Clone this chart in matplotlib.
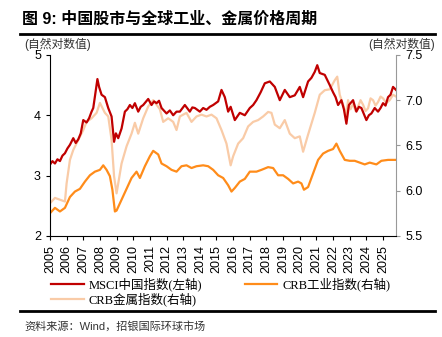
import matplotlib.pyplot as plt
from matplotlib.lines import Line2D

plt.rcParams['font.family'] = ['Liberation Sans', 'Noto Sans CJK SC', 'DejaVu Sans']

# MSCI China (left axis, natural log)
msci_t = [2005.0, 2005.15, 2005.3, 2005.45, 2005.6, 2005.75, 2005.9, 2006.05, 2006.2, 2006.4,
          2006.55, 2006.7, 2006.85, 2007.0, 2007.2, 2007.35, 2007.5, 2007.6, 2007.7, 2007.85,
          2007.95, 2008.1, 2008.3, 2008.5, 2008.7, 2008.85, 2008.96, 2009.1, 2009.3, 2009.5,
          2009.65, 2009.8, 2009.95, 2010.1, 2010.3, 2010.45, 2010.6, 2010.9, 2011.1, 2011.25,
          2011.4, 2011.55, 2011.7, 2012.0, 2012.2, 2012.4, 2012.6, 2012.8, 2013.1, 2013.4,
          2013.55, 2013.7, 2014.0, 2014.2, 2014.4, 2014.6, 2014.8, 2015.1, 2015.3, 2015.5,
          2015.7, 2015.85, 2016.1, 2016.4, 2016.7, 2017.0, 2017.2, 2017.4, 2017.65, 2017.9,
          2018.2, 2018.5, 2018.8, 2019.1, 2019.4, 2019.7, 2020.0, 2020.2, 2020.5, 2020.7,
          2020.9, 2021.05, 2021.2, 2021.5, 2021.8, 2022.0, 2022.15, 2022.3, 2022.5, 2022.65,
          2022.8, 2022.95, 2023.2, 2023.4, 2023.55, 2023.7, 2023.85, 2024.0, 2024.15, 2024.3,
          2024.5, 2024.7, 2024.85, 2025.0, 2025.15, 2025.3, 2025.45, 2025.6, 2025.78]
msci_v = [3.18, 3.24, 3.20, 3.27, 3.24, 3.33, 3.37, 3.45, 3.51, 3.62,
          3.54, 3.60, 3.70, 3.92, 3.88, 3.95, 4.06, 4.12, 4.31, 4.60,
          4.47, 4.34, 4.30, 4.12, 3.98, 3.56, 3.70, 3.62, 3.78, 4.06,
          4.10, 4.17, 4.12, 4.20, 4.06, 4.14, 4.17, 4.27, 4.17, 4.23,
          4.20, 4.24, 4.12, 4.03, 4.08, 4.00, 4.06, 4.06, 4.17, 4.06,
          4.13, 4.12, 4.06, 4.12, 4.09, 4.14, 4.17, 4.23, 4.42, 4.30,
          4.06, 4.14, 3.92, 4.04, 4.00, 4.12, 4.17, 4.25, 4.38, 4.53,
          4.56, 4.47, 4.25, 4.42, 4.30, 4.33, 4.47, 4.30, 4.56, 4.62,
          4.72, 4.83, 4.70, 4.67, 4.50, 4.38, 4.30, 4.17, 4.25, 4.10,
          3.86, 4.17, 4.25, 4.06, 4.14, 4.12, 4.02, 3.92, 4.00, 4.03,
          4.12, 4.06, 4.12, 4.20, 4.16, 4.30, 4.34, 4.47, 4.42]

# CRB industrials (right axis)
ind_t = [2005.0, 2005.3, 2005.6, 2005.9, 2006.2, 2006.5, 2006.8, 2007.1, 2007.4, 2007.7,
         2008.0, 2008.2, 2008.4, 2008.6, 2008.75, 2008.9, 2009.0, 2009.3, 2009.6, 2009.9,
         2010.2, 2010.4, 2010.7, 2011.0, 2011.2, 2011.5, 2011.7, 2012.0, 2012.3, 2012.6,
         2012.9, 2013.2, 2013.5, 2013.8, 2014.2, 2014.5, 2014.8, 2015.1, 2015.4, 2015.7,
         2015.9, 2016.1, 2016.4, 2016.7, 2017.0, 2017.4, 2017.7, 2018.1, 2018.4, 2018.7,
         2019.0, 2019.3, 2019.6, 2019.9, 2020.1, 2020.25, 2020.5, 2020.8, 2021.1, 2021.4,
         2021.7, 2022.0, 2022.2, 2022.4, 2022.7, 2023.0, 2023.3, 2023.6, 2023.9, 2024.2,
         2024.6, 2024.9, 2025.3, 2025.78]
ind_v = [5.75, 5.81, 5.77, 5.81, 5.93, 5.99, 6.02, 6.10, 6.17, 6.21,
         6.23, 6.28, 6.23, 6.16, 6.01, 5.77, 5.78, 5.90, 6.02, 6.14,
         6.21, 6.14, 6.27, 6.38, 6.44, 6.40, 6.30, 6.27, 6.23, 6.21,
         6.27, 6.28, 6.25, 6.27, 6.28, 6.27, 6.23, 6.17, 6.14, 6.06,
         5.99, 6.03, 6.10, 6.13, 6.21, 6.21, 6.23, 6.26, 6.25, 6.17,
         6.17, 6.13, 6.08, 6.10, 6.08, 6.01, 6.04, 6.19, 6.34, 6.41,
         6.44, 6.46, 6.52, 6.44, 6.34, 6.33, 6.33, 6.31, 6.29, 6.31,
         6.29, 6.33, 6.34, 6.34]

# CRB metals (right axis)
met_t = [2005.0, 2005.3, 2005.6, 2005.9, 2006.0, 2006.2, 2006.4, 2006.7, 2007.0, 2007.2,
         2007.5, 2007.8, 2008.0, 2008.3, 2008.5, 2008.7, 2008.85, 2009.0, 2009.1, 2009.3,
         2009.6, 2009.9, 2010.1, 2010.3, 2010.6, 2010.9, 2011.2, 2011.4, 2011.6, 2011.8,
         2012.1, 2012.4, 2012.6, 2012.8, 2013.2, 2013.5, 2013.8, 2014.1, 2014.4, 2014.7,
         2015.0, 2015.3, 2015.6, 2015.85, 2016.0, 2016.3, 2016.6, 2016.9, 2017.2, 2017.5,
         2017.8, 2018.1, 2018.3, 2018.5, 2018.8, 2019.1, 2019.4, 2019.7, 2020.0, 2020.2,
         2020.5, 2020.9, 2021.2, 2021.5, 2021.8, 2022.1, 2022.25, 2022.4, 2022.8, 2022.9,
         2023.05, 2023.2, 2023.35, 2023.5, 2023.65, 2023.8, 2023.95, 2024.1, 2024.25, 2024.4,
         2024.55, 2024.7, 2024.85, 2025.0, 2025.2, 2025.4, 2025.6, 2025.78]
met_v = [5.86, 5.92, 5.90, 5.88, 6.08, 6.34, 6.45, 6.56, 6.67, 6.76,
         6.80, 6.86, 6.97, 6.86, 6.82, 6.56, 6.16, 5.97, 6.08, 6.30,
         6.49, 6.63, 6.75, 6.63, 6.80, 6.93, 7.00, 6.95, 6.90, 6.76,
         6.80, 6.76, 6.67, 6.82, 6.86, 6.76, 6.82, 6.84, 6.82, 6.84,
         6.80, 6.67, 6.52, 6.28, 6.38, 6.52, 6.58, 6.71, 6.76, 6.78,
         6.82, 6.87, 6.86, 6.73, 6.69, 6.78, 6.63, 6.58, 6.60, 6.43,
         6.62, 6.86, 7.06, 7.11, 7.12, 7.22, 7.26, 7.06, 6.84, 7.00,
         6.90, 6.96, 6.88, 6.93, 7.00, 6.95, 6.88, 6.91, 7.02, 7.00,
         6.94, 6.98, 7.04, 7.02, 6.97, 7.00, 7.06, 7.04]

years = list(range(2005, 2026))

fig = plt.figure(figsize=(4.42, 3.37), dpi=100)
ax = fig.add_axes([0.113, 0.300, 0.783, 0.537])
ax2 = ax.twinx()

l3, = ax2.plot(met_t, met_v, color='#F9CBA7', lw=1.6, label='CRB金属指数(右轴)')
l2, = ax2.plot(ind_t, ind_v, color='#FF8C1A', lw=1.6, label='CRB工业指数(右轴)')
l1, = ax.plot(msci_t, msci_v, color='#C00000', lw=1.6, label='MSCI中国指数(左轴)')
ax.set_zorder(ax2.get_zorder() + 1)
ax.patch.set_visible(False)

ax.set_xlim(2005, 2025.78)
ax.set_ylim(2, 5)
ax2.set_ylim(5.5, 7.5)
ax.set_yticks([2, 3, 4, 5])
ax2.set_yticks([5.5, 6.0, 6.5, 7.0, 7.5])
ax2.set_yticklabels(['5.5', '6.0', '6.5', '7.0', '7.5'])
ax.set_xticks(years)
ax.set_xticklabels([str(y) for y in years], rotation=90)
ax.tick_params(labelsize=9, length=3, width=0.8)
ax2.tick_params(labelsize=9, length=3, width=0.8, color='#999999')

for a in (ax, ax2):
    a.spines['top'].set_visible(False)
ax2.spines['left'].set_visible(False)
ax2.spines['bottom'].set_visible(False)
ax.spines['right'].set_visible(False)
ax2.spines['right'].set_color('#999999')

fig.text(0.05, 0.943, '图 9: 中国股市与全球工业、金属价格周期', fontsize=11.5, fontweight='bold', va='center')
fig.add_artist(Line2D([0.045, 0.985], [0.9, 0.9], color='black', lw=2))
fig.text(0.055, 0.868, '(自然对数值)', fontsize=8.5, va='center', color='#333333')
fig.text(0.985, 0.868, '(自然对数值)', fontsize=8.5, va='center', ha='right', color='#333333')

fig.legend(handles=[l1, l3, l2], ncol=2, loc='upper left', bbox_to_anchor=(0.105, 0.192),
           frameon=False, handlelength=2.6, handletextpad=0.4,
           columnspacing=3.4, labelspacing=0.12, borderaxespad=0,
           prop={'family': ['Liberation Serif', 'Noto Sans CJK SC'], 'size': 9})

fig.add_artist(Line2D([0.045, 0.985], [0.077, 0.077], color='black', lw=2))
fig.text(0.055, 0.032, '资料来源：Wind，招银国际环球市场', fontsize=8, va='center', color='#333333')

fig.savefig('out.png', dpi=100)
